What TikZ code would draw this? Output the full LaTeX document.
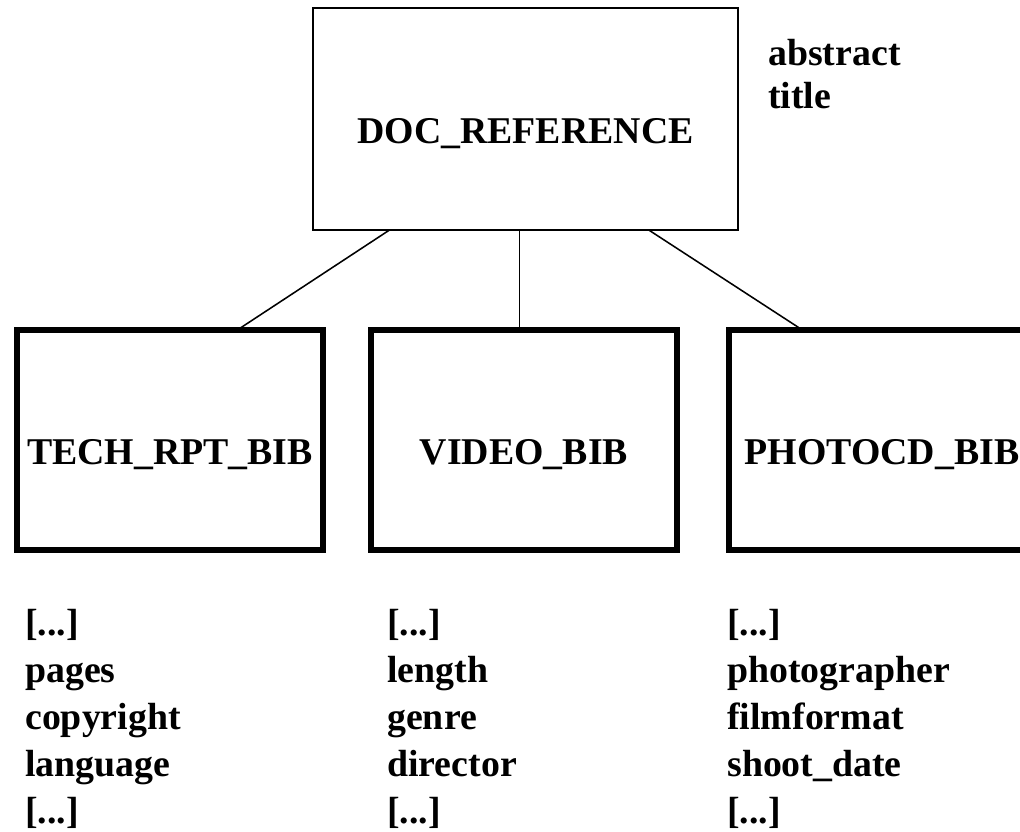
\documentclass[tikz,border=0pt]{standalone}
\usepackage{fontspec}
\setmainfont{Liberation Serif}
\usetikzlibrary{positioning,calc}

\begin{document}
\begin{tikzpicture}[font=\fontsize{26.9}{33.4}\selectfont\bfseries,
    entity/.style={draw,rectangle,minimum width=7.65cm,minimum height=5.5cm,
        line width=4.2pt,outer sep=0pt,text height=1.35cm,text depth=0.15cm},
    attrs/.style={align=left,inner sep=0pt,anchor=base west},
    link/.style={line width=1.1pt}]
    \useasboundingbox (0,0) rectangle (25.5,-20.775);
    \clip (0,0) rectangle (25.5,-20.775);

    \node[entity,line width=1.4pt,minimum width=10.625cm,minimum height=5.55cm]
        (docref) at (13.1375,-2.975) {DOC\_REFERENCE};
    \node[attrs,font=\fontsize{26.9}{30.5}\selectfont\bfseries]
        (docattr) at (19.2,-2.7) {abstract\\title};

    \node[entity] (techrpt) at (4.25,-11) {TECH\_RPT\_BIB};
    \node[entity,right=1.2cm of techrpt] (video) {VIDEO\_BIB};
    \node[entity,right=1.3cm of video] (photocd) {PHOTOCD\_BIB};

    \coordinate (videotop) at ($(video.north west)!.485!(video.north east)$);
    \draw[link] ($(docref.south west)!.18!(docref.south east)$)
        -- ($(techrpt.north west)!.72!(techrpt.north east)$);
    \draw[link] (videotop |- docref.south) -- (videotop);
    \draw[link] ($(docref.south west)!.79!(docref.south east)$)
        -- ($(photocd.north west)!.24!(photocd.north east)$);

    % attribute lists under the boxes (base = last line)
    \node[attrs] (techattr) at (0.625,-20.575)
        {{[...]}\\pages\\copyright\\language\\{[...]}};
    \node[attrs] (videoattr) at (9.675,-20.575)
        {{[...]}\\length\\genre\\director\\{[...]}};
    \node[attrs] (photoattr) at (18.175,-20.575)
        {{[...]}\\photographer\\filmformat\\shoot\_date\\{[...]}};
\end{tikzpicture}
\end{document}
